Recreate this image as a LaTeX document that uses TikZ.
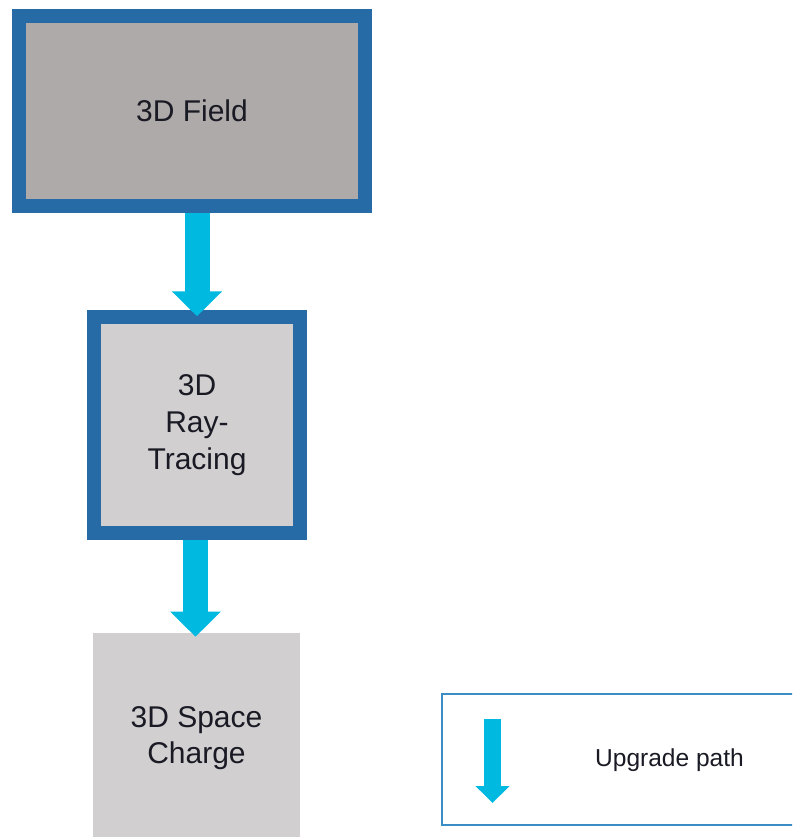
\documentclass[tikz,border=0pt]{standalone}
\usepackage{fontspec}
\setmainfont{Liberation Sans}
\usetikzlibrary{arrows.meta,calc}
\definecolor{bordblue}{HTML}{266BA6}
\definecolor{fieldgray}{HTML}{AEAAA9}
\definecolor{lightgray2}{HTML}{D1CFD0}
\definecolor{upcyan}{HTML}{00B9E1}
\definecolor{legblue}{HTML}{3A8DC5}
\definecolor{txt}{HTML}{1A1A24}
\tikzset{
  stagebox/.style={rectangle, draw=bordblue, line width=10.5pt, text=txt, align=center,
    font=\fontsize{22.5}{27.5}\selectfont, inner sep=0pt},
  plainbox/.style={rectangle, draw=none, fill=lightgray2, text=txt, align=center,
    font=\fontsize{22.5}{27.5}\selectfont, inner sep=0pt},
  upgrade/.style={draw=upcyan, line width=18.75pt, -{Triangle[width=36.75pt,length=18.75pt]}},
  smallupgrade/.style={draw=upcyan, line width=12.75pt, -{Triangle[width=24.75pt,length=12.75pt]}},
}
\begin{document}
\begin{tikzpicture}[x=0.75pt,y=-0.75pt]
\clip (0,0) rectangle (792,837);
\fill[white] (0,0) rectangle (792,837);
\node[stagebox, fill=fieldgray, minimum width=259.5pt, minimum height=142.5pt] (field) at (192,111) {3D Field};
\node[stagebox, fill=lightgray2, minimum width=154.7pt, minimum height=161.6pt] (ray) at (197,425) {3D\\Ray-\\Tracing};
\node[plainbox, minimum width=155.25pt, minimum height=157.5pt] (space) at (196.5,738) {3D Space\\Charge};
\draw[upgrade] (field.south -| ray.north) -- ($(ray.north)+(0,6)$);
\draw[upgrade] ($(ray.south)+(-1.5,0)$) -- ($(ray.south |- space.north)+(-1.5,4)$);
\node[rectangle, draw=legblue, line width=1.5pt, minimum width=270pt, minimum height=98.25pt, inner sep=0pt] (legend) at (622,759.5) {};
\coordinate (l1) at (492.5,719);
\coordinate (l2) at (492.5,803);
\draw[smallupgrade] (l1) -- (l2);
\node[text=txt, font=\fontsize{18.4}{22}\selectfont, inner sep=0pt] (legtext) at (669.5,760) {Upgrade path};
\end{tikzpicture}
\end{document}
